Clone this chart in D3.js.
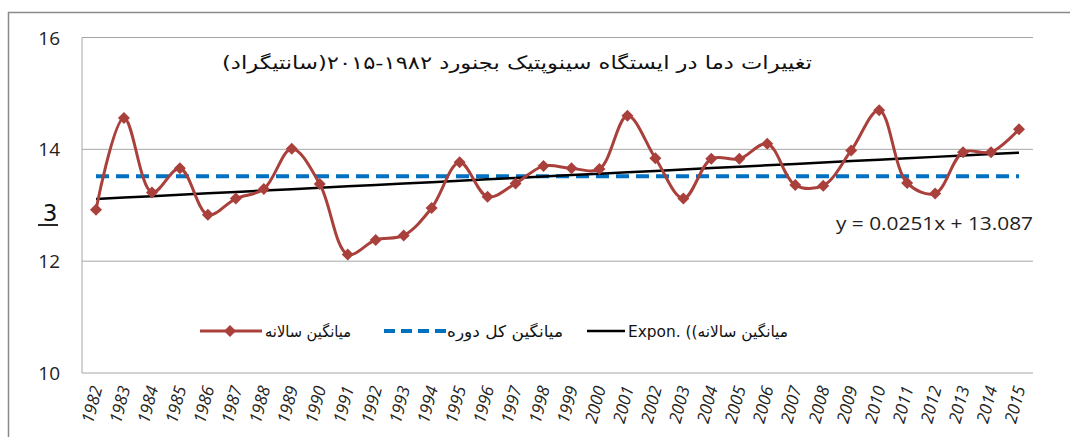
<!DOCTYPE html>
<html>
<head>
    <meta charset="utf-8">
    <style>
        body { margin: 0; background: #fff; }
        svg { display: block; }
        .tick text { font-family: "Open Sans", sans-serif; fill: #222; }
        .fa { font-family: "DejaVu Sans", sans-serif; fill: #111; }
    </style>
</head>
<body>
    <div id="container"></div>
    <script src="https://d3js.org/d3.v7.min.js"></script>
    <script>
        const years = [1982, 1983, 1984, 1985, 1986, 1987, 1988, 1989, 1990, 1991, 1992, 1993, 1994, 1995, 1996, 1997, 1998, 1999, 2000, 2001, 2002, 2003, 2004, 2005, 2006, 2007, 2008, 2009, 2010, 2011, 2012, 2013, 2014, 2015];
        const annualMean = [12.92, 14.56, 13.23, 13.66, 12.83, 13.12, 13.29, 14.01, 13.38, 12.12, 12.38, 12.46, 12.95, 13.77, 13.15, 13.39, 13.70, 13.66, 13.65, 14.60, 13.84, 13.12, 13.83, 13.83, 14.10, 13.36, 13.35, 13.98, 14.70, 13.40, 13.21, 13.95, 13.95, 14.36];
        const periodMean = 13.52;
        const trendSlope = 0.0251, trendIntercept = 13.087;
        const yTicks = [10, 12, 14, 16];

        const titleText = "تغییرات دما در ایستگاه سینوپتیک بجنورد ۱۹۸۲\u200F-۲۰۱۵(سانتیگراد)";
        const legendLabels = ["میانگین سالانه", "میانگین کل دوره", "میانگین سالانه)) .Expon"];
        const equationText = "y = 0.0251x + 13.087";

        const width = 1070, height = 437;
        const margin = { left: 82, right: 1033, top: 37.5, bottom: 373 };

        const svg = d3.select("#container").append("svg")
            .attr("width", width).attr("height", height);

        // outer chart frame (only top and left visible)
        svg.append("path")
            .attr("d", `M8.5,${height} V12.5 H${width}`)
            .attr("fill", "none").attr("stroke", "#8a8a8a").attr("stroke-width", 1.5);

        const x = d3.scalePoint().domain(years).range([margin.left, margin.right]).padding(0.5);
        const y = d3.scaleLinear().domain([10, 16]).range([margin.bottom, margin.top]);

        // gridlines
        svg.append("g").selectAll("line").data(yTicks).join("line")
            .attr("x1", margin.left).attr("x2", margin.right)
            .attr("y1", d => y(d)).attr("y2", d => y(d))
            .attr("stroke", "#a6a6a6").attr("stroke-width", 1);

        svg.append("line")
            .attr("x1", margin.left).attr("x2", margin.left)
            .attr("y1", margin.top).attr("y2", margin.bottom)
            .attr("stroke", "#a6a6a6").attr("stroke-width", 1);

        // y axis labels
        const yAxis = svg.append("g")
            .attr("transform", `translate(${margin.left},0)`)
            .call(d3.axisLeft(y).tickValues(yTicks).tickFormat(d3.format("d")).tickSize(0).tickPadding(22));
        yAxis.select(".domain").remove();
        yAxis.selectAll("text").attr("font-size", 19).attr("dy", "0.35em");

        // x axis labels
        const xAxis = svg.append("g")
            .attr("transform", `translate(0,${margin.bottom})`)
            .call(d3.axisBottom(x).tickSize(0).tickFormat(d3.format("d")));
        xAxis.select(".domain").remove();
        xAxis.selectAll("text")
            .attr("font-size", 17)
            .attr("font-style", "italic")
            .attr("text-anchor", "end")
            .attr("dy", 0)
            .attr("y", 0)
            .attr("transform", "translate(6,15) rotate(-75)");

        // period mean (dashed)
        svg.append("path")
            .datum(years)
            .attr("fill", "none")
            .attr("stroke", "#0070c0")
            .attr("stroke-width", 4)
            .attr("stroke-dasharray", "13,7")
            .attr("d", d3.line().x(d => x(d)).y(() => y(periodMean)));

        // trend line
        svg.append("path")
            .datum(years)
            .attr("fill", "none")
            .attr("stroke", "#000")
            .attr("stroke-width", 2.5)
            .attr("d", d3.line().x(d => x(d)).y((d, i) => y(trendSlope * (i + 1) + trendIntercept)));

        // annual mean series
        const red = "#a9403b";
        svg.append("path")
            .datum(annualMean)
            .attr("fill", "none")
            .attr("stroke", red)
            .attr("stroke-width", 3)
            .attr("d", d3.line().curve(d3.curveCatmullRom.alpha(0.5))
                .x((d, i) => x(years[i])).y(d => y(d)));

        const diamond = d3.symbol(d3.symbolSquare, 72);
        svg.append("g").selectAll("path").data(annualMean).join("path")
            .attr("d", diamond)
            .attr("fill", red)
            .attr("transform", (d, i) => `translate(${x(years[i])},${y(d)}) rotate(45)`);

        // title
        svg.append("text")
            .attr("class", "fa")
            .attr("direction", "rtl")
            .attr("text-anchor", "middle")
            .attr("x", 517).attr("y", 69)
            .attr("font-size", 18)
            .attr("textLength", 590)
            .attr("lengthAdjust", "spacingAndGlyphs")
            .text(titleText);

        // equation
        svg.append("text")
            .attr("x", 1033).attr("y", 230)
            .attr("text-anchor", "end")
            .attr("font-family", "Open Sans, sans-serif")
            .attr("font-size", 18.5)
            .attr("fill", "#222")
            .attr("textLength", 197)
            .attr("lengthAdjust", "spacingAndGlyphs")
            .text(equationText);

        // stray glyph near y axis
        svg.append("text").attr("x", 50).attr("y", 221).attr("text-anchor", "middle")
            .attr("font-family", "DejaVu Sans, sans-serif").attr("font-size", 23).attr("fill", "#111").text("3");
        svg.append("line").attr("x1", 38).attr("x2", 58).attr("y1", 225).attr("y2", 225)
            .attr("stroke", "#111").attr("stroke-width", 1.8);

        // legend
        const ly = 331;
        const lg = svg.append("g");
        lg.append("line").attr("x1", 200).attr("x2", 262).attr("y1", ly).attr("y2", ly)
            .attr("stroke", red).attr("stroke-width", 3);
        lg.append("path").attr("d", diamond).attr("fill", red)
            .attr("transform", `translate(230,${ly}) rotate(45)`);
        lg.append("line").attr("x1", 384).attr("x2", 446).attr("y1", ly).attr("y2", ly)
            .attr("stroke", "#0070c0").attr("stroke-width", 4).attr("stroke-dasharray", "11,6");
        lg.append("line").attr("x1", 587).attr("x2", 625).attr("y1", ly).attr("y2", ly)
            .attr("stroke", "#000").attr("stroke-width", 2.5);

        const legendPos = [[308, 86], [505, 116], [708, 160]];
        legendLabels.forEach((t, i) => {
            lg.append("text")
                .attr("class", "fa")
                .attr("direction", "rtl")
                .attr("text-anchor", "middle")
                .attr("x", legendPos[i][0]).attr("y", ly + 6)
                .attr("font-size", 16)
                .attr("textLength", legendPos[i][1])
                .attr("lengthAdjust", "spacingAndGlyphs")
                .text(t);
        });
    </script>
</body>
</html>
